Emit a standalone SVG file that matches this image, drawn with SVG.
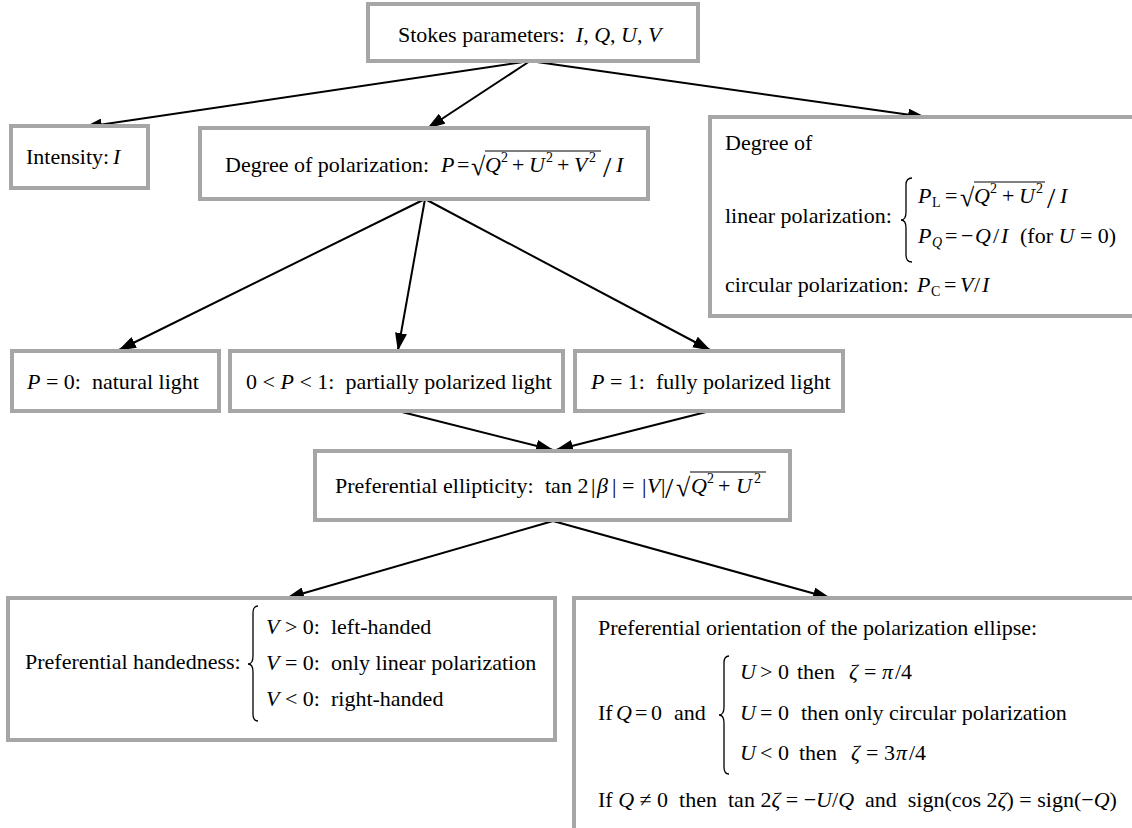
<svg xmlns="http://www.w3.org/2000/svg" width="1132" height="828" viewBox="0 0 1132 828">
<style>
.box{fill:#fff;stroke:#a6a6a6;stroke-width:4}
text{font-family:"Liberation Serif","Times New Roman",serif;font-size:22px;fill:#000}
.i{font-style:italic}
.s{font-size:14px}
.r{font-size:26px}
.sl{font-size:30px}
.ln{stroke:#000;stroke-width:2;fill:none;marker-end:url(#ah)}
.br{stroke:#000;stroke-width:1.3;fill:none}
.ov{stroke:#000;stroke-width:1.2}
</style>
<defs>
<marker id="ah" markerUnits="userSpaceOnUse" markerWidth="18" markerHeight="12" refX="17" refY="6" orient="auto"><path d="M0,0 L18,6 L0,12 z" fill="#000"/></marker>
</defs>
<rect width="1132" height="828" fill="#fff"/>

<g id="connectors">
<line class="ln" x1="530" y1="61" x2="85" y2="127"/>
<line class="ln" x1="530" y1="61" x2="428" y2="128"/>
<line class="ln" x1="530" y1="61" x2="925" y2="117"/>
<line class="ln" x1="425" y1="199" x2="119" y2="350"/>
<line class="ln" x1="425" y1="199" x2="398" y2="350"/>
<line class="ln" x1="425" y1="199" x2="710" y2="350"/>
<line class="ln" x1="398" y1="411" x2="553" y2="450"/>
<line class="ln" x1="710" y1="411" x2="556" y2="450"/>
<line class="ln" x1="553" y1="521" x2="287" y2="598"/>
<line class="ln" x1="553" y1="521" x2="830" y2="598"/>
</g>

<g id="stokes">
<rect class="box" x="368" y="4" width="330" height="57"/>
<text x="398" y="42">Stokes parameters: &#160;<tspan class="i">I</tspan>, <tspan class="i">Q</tspan>, <tspan class="i">U</tspan>, <tspan class="i">V</tspan></text>
</g>

<g id="intensity">
<rect class="box" x="11" y="126" width="137" height="62"/>
<text y="164"><tspan x="26">Intensity:</tspan><tspan x="113" class="i">I</tspan></text>
</g>

<g id="degree">
<rect class="box" x="200" y="128" width="448" height="71"/>
<text y="172"><tspan x="225">Degree of polarization:</tspan><tspan x="441" class="i">P</tspan><tspan x="457">=</tspan><tspan x="471" y="175" class="r">√</tspan><tspan x="485" y="172" class="i">Q</tspan><tspan x="501" y="162" class="s">2</tspan><tspan x="512" y="172">+</tspan><tspan x="529" class="i">U</tspan><tspan x="546" y="162" class="s">2</tspan><tspan x="557" y="172">+</tspan><tspan x="574" class="i">V</tspan><tspan x="589" y="162" class="s">2</tspan><tspan x="603" y="177" class="sl">/</tspan><tspan x="616" y="172" class="i">I</tspan></text>
<line class="ov" x1="485" y1="151" x2="601" y2="151"/>
</g>

<g id="components">
<rect class="box" x="710" y="117" width="430" height="199"/>
<text x="725" y="150">Degree of</text>
<text x="725" y="223">linear polarization:</text>
<path class="br" d="M912,178 Q906,178 906,185 L906,212 Q906,220 901,220 Q906,220 906,228 L906,255 Q906,262 912,262"/>
<text y="203"><tspan x="918" class="i">P</tspan><tspan x="932" y="207" class="s">L</tspan><tspan x="945" y="203">=</tspan><tspan x="960" y="206" class="r">√</tspan><tspan x="974" y="203" class="i">Q</tspan><tspan x="990" y="193" class="s">2</tspan><tspan x="1002" y="203">+</tspan><tspan x="1019" class="i">U</tspan><tspan x="1036" y="193" class="s">2</tspan><tspan x="1047" y="208" class="sl">/</tspan><tspan x="1060" y="203" class="i">I</tspan></text>
<line class="ov" x1="974" y1="182" x2="1045" y2="182"/>
<text y="243"><tspan x="918" class="i">P</tspan><tspan x="932" y="247" class="s i">Q</tspan><tspan x="945" y="243">=</tspan><tspan x="961">−</tspan><tspan x="975" class="i">Q</tspan><tspan x="993">/</tspan><tspan x="1001" class="i">I</tspan><tspan x="1020">(for </tspan><tspan class="i">U</tspan><tspan> = 0)</tspan></text>
<text y="292"><tspan x="725">circular polarization:</tspan><tspan x="917" class="i">P</tspan><tspan x="931" y="296" class="s">C</tspan><tspan x="944" y="292">=</tspan><tspan x="960" class="i">V</tspan><tspan x="974">/</tspan><tspan x="982" class="i">I</tspan></text>
</g>

<g id="natural">
<rect class="box" x="12" y="351" width="207" height="60"/>
<text x="27" y="389"><tspan class="i">P</tspan> = 0: &#160;natural light</text>
</g>

<g id="partial">
<rect class="box" x="230" y="351" width="333" height="60"/>
<text x="246" y="389">0 &lt; <tspan class="i">P</tspan> &lt; 1: &#160;partially polarized light</text>
</g>

<g id="fully">
<rect class="box" x="575" y="351" width="268" height="60"/>
<text x="591" y="389"><tspan class="i">P</tspan> = 1: &#160;fully polarized light</text>
</g>

<g id="ellipticity">
<rect class="box" x="315" y="451" width="475" height="69"/>
<text y="493"><tspan x="335">Preferential ellipticity:</tspan><tspan x="545">tan 2</tspan><tspan x="591">|</tspan><tspan x="597" class="i">β</tspan><tspan x="612">|</tspan><tspan x="622">=</tspan><tspan x="642">|</tspan><tspan x="647" class="i">V</tspan><tspan x="661">|</tspan><tspan x="665" y="498" class="sl">/</tspan><tspan x="676" y="496" class="r">√</tspan><tspan x="691" y="493" class="i">Q</tspan><tspan x="707" y="483" class="s">2</tspan><tspan x="718" y="493">+</tspan><tspan x="736" class="i">U</tspan><tspan x="754" y="483" class="s">2</tspan></text>
<line class="ov" x1="690" y1="472" x2="766" y2="472"/>
</g>

<g id="handedness">
<rect class="box" x="8" y="598" width="547" height="142"/>
<text x="25" y="669">Preferential handedness:</text>
<path class="br" d="M258,606 Q253,606 253,613 L253,656 Q253,664 248,664 Q253,664 253,672 L253,714 Q253,721 258,721"/>
<text x="266" y="634"><tspan class="i">V</tspan> &gt; 0: &#160;left-handed</text>
<text x="266" y="670"><tspan class="i">V</tspan> = 0: &#160;only linear polarization</text>
<text x="266" y="706"><tspan class="i">V</tspan> &lt; 0: &#160;right-handed</text>
</g>

<g id="orientation">
<rect class="box" x="574" y="598" width="570" height="240"/>
<text x="598" y="635">Preferential orientation of the polarization ellipse:</text>
<text y="720"><tspan x="598">If</tspan><tspan x="616" class="i">Q</tspan><tspan x="635">=</tspan><tspan x="651">0</tspan><tspan x="674">and</tspan></text>
<path class="br" d="M729,656 Q724,656 724,663 L724,707 Q724,715 719,715 Q724,715 724,723 L724,767 Q724,774 729,774"/>
<text y="679"><tspan x="740" class="i">U</tspan><tspan x="760">&gt; 0</tspan><tspan x="797">then</tspan><tspan x="849" class="i">ζ</tspan><tspan x="864">=</tspan><tspan x="882" class="i">π</tspan><tspan x="895">/4</tspan></text>
<text y="720"><tspan x="740" class="i">U</tspan><tspan x="760">= 0</tspan><tspan x="801">then only circular polarization</tspan></text>
<text y="760"><tspan x="740" class="i">U</tspan><tspan x="760">&lt; 0</tspan><tspan x="799">then</tspan><tspan x="851" class="i">ζ</tspan><tspan x="866">=</tspan><tspan x="884">3</tspan><tspan x="896" class="i">π</tspan><tspan x="909">/4</tspan></text>
<text x="598" y="807">If <tspan class="i">Q</tspan> ≠ 0 &#160;then &#160;tan 2<tspan class="i">ζ</tspan> = −<tspan class="i">U</tspan>/<tspan class="i">Q</tspan> &#160;and &#160;sign(cos 2<tspan class="i">ζ</tspan>) = sign(−<tspan class="i">Q</tspan>)</text>
</g>
</svg>
